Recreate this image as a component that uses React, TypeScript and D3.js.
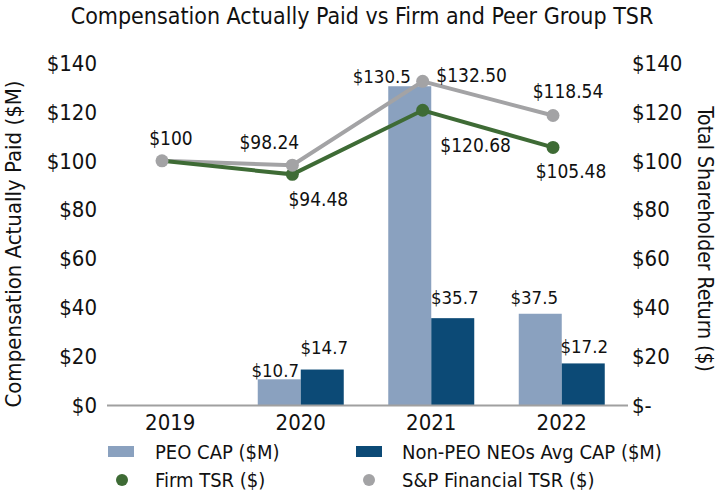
import React from "react";
import * as d3 from "d3";

const years = ["2019", "2020", "2021", "2022"];
const peoCap: (number | null)[] = [null, 10.7, 130.5, 37.5];
const neoCap: (number | null)[] = [null, 14.7, 35.7, 17.2];
const firmTsr = [100, 94.48, 120.68, 105.48];
const spTsr = [100, 98.24, 132.5, 118.54];
const firmLabels = ["", "$94.48", "$120.68", "$105.48"];
const spLabels = ["$100", "$98.24", "$132.50", "$118.54"];
const leftTicks = [0, 20, 40, 60, 80, 100, 120, 140];

const W = 721, H = 493;
const FONT = "'Liberation Sans Narrow', 'DejaVu Sans Condensed', sans-serif";
const C_PEO = "#8aa1bf", C_NEO = "#0c4a76", C_FIRM = "#3e6b35", C_SP = "#a3a3a5";

export default function App() {
  const x = d3.scaleBand<string>().domain(years).range([105, 627]).paddingInner(0).paddingOuter(0);
  const bw = 43;
  const xl = d3.scalePoint<string>().domain(years).range([162, 553]);
  const y = d3.scaleLinear().domain([0, 140]).range([405.5, 63]);
  const line = d3.line<number>().x((_, i) => xl(years[i])!).y((d) => y(d));
  const cx = (yr: string) => x(yr)! + x.bandwidth() / 2;

  // label offsets (dx, dy) relative to point / bar top
  const spOff = [[9, -23], [-23, -23], [49, -6], [15, -24]];
  const firmOff = [[0, 0], [26, 25], [53, 35], [18, 24]];
  const peoOff = [[0, 0], [-4, -9], [-28, -10], [-6, -16]];
  const neoOff = [[0, 0], [2, -22], [2, -21], [1, -17]];

  return (
    <svg width={W} height={H} style={{ display: "block", position: "absolute", left: 0, top: 0 }} fontFamily={FONT}>
      <rect width={W} height={H} fill="#fff" />
      <text x={362} y={24} textAnchor="middle" fontSize={23} fill="#111">
        Compensation Actually Paid vs Firm and Peer Group TSR
      </text>
      {leftTicks.map((t) => (
        <g key={t}>
          <text x={97} y={y(t)} dy="0.35em" textAnchor="end" fontSize={22} fill="#111">${t}</text>
          <text x={632} y={y(t)} dy="0.35em" textAnchor="start" fontSize={22} fill="#111">{t === 0 ? "$-" : `$${t}`}</text>
        </g>
      ))}
      <text transform={`translate(21,${(63 + 405) / 2 + 10}) rotate(-90)`} textAnchor="middle" fontSize={22} fill="#111">
        Compensation Actually Paid ($M)
      </text>
      <text transform={`translate(698,${(63 + 405) / 2 + 5}) rotate(90)`} textAnchor="middle" fontSize={21} fill="#111">
        Total Shareholder Return ($)
      </text>
      {years.map((yr, i) => (
        <g key={yr}>
          {peoCap[i] != null && (
            <rect x={cx(yr) - bw} y={y(peoCap[i]!)} width={bw} height={y(0) - y(peoCap[i]!)} fill={C_PEO} />
          )}
          {neoCap[i] != null && (
            <rect x={cx(yr)} y={y(neoCap[i]!)} width={bw} height={y(0) - y(neoCap[i]!)} fill={C_NEO} />
          )}
        </g>
      ))}
      <line x1={107} x2={628} y1={y(0)} y2={y(0)} stroke="#a0a0a0" strokeWidth={2} />
      {years.map((yr) => (
        <text key={yr} x={cx(yr)} y={430} textAnchor="middle" fontSize={22} fill="#111">{yr}</text>
      ))}
      {years.map((yr, i) => (
        <g key={"bl" + yr} fontSize={18.5} fill="#111" textAnchor="middle">
          {peoCap[i] != null && (
            <text x={cx(yr) - bw / 2 + peoOff[i][0]} y={y(peoCap[i]!) + peoOff[i][1]} dy="0.35em">${peoCap[i]!.toFixed(1)}</text>
          )}
          {neoCap[i] != null && (
            <text x={cx(yr) + bw / 2 + neoOff[i][0]} y={y(neoCap[i]!) + neoOff[i][1]} dy="0.35em">${neoCap[i]!.toFixed(1)}</text>
          )}
        </g>
      ))}
      <path d={line(spTsr)!} fill="none" stroke={C_SP} strokeWidth={4} />
      <path d={line(firmTsr)!} fill="none" stroke={C_FIRM} strokeWidth={4} />
      {firmTsr.map((v, i) => (
        i === 0 ? null : <circle key={"f" + i} cx={xl(years[i])} cy={y(v)} r={6.5} fill={C_FIRM} />
      ))}
      {spTsr.map((v, i) => (
        <circle key={"s" + i} cx={xl(years[i])} cy={y(v)} r={6.5} fill={C_SP} />
      ))}
      {spTsr.map((v, i) => (
        <text key={"sl" + i} x={xl(years[i])! + spOff[i][0]} y={y(v) + spOff[i][1]} dy="0.35em" textAnchor="middle" fontSize={19} fill="#111">{spLabels[i]}</text>
      ))}
      {firmTsr.map((v, i) => (
        i === 0 ? null : <text key={"fl" + i} x={xl(years[i])! + firmOff[i][0]} y={y(v) + firmOff[i][1]} dy="0.35em" textAnchor="middle" fontSize={19} fill="#111">{firmLabels[i]}</text>
      ))}
      {/* legend */}
      <g fontSize={20} fill="#111">
        <rect x={108} y={446} width={26} height={11} fill={C_PEO} />
        <text x={155} y={451.5} dy="0.35em">PEO CAP ($M)</text>
        <rect x={356} y={446} width={26} height={11} fill={C_NEO} />
        <text x={402} y={451.5} dy="0.35em">Non-PEO NEOs Avg CAP ($M)</text>
        <circle cx={122} cy={480} r={6} fill={C_FIRM} />
        <text x={155} y={480} dy="0.35em">Firm TSR ($)</text>
        <circle cx={369} cy={480} r={6} fill={C_SP} />
        <text x={402} y={480} dy="0.35em">S&amp;P Financial TSR ($)</text>
      </g>
    </svg>
  );
}
